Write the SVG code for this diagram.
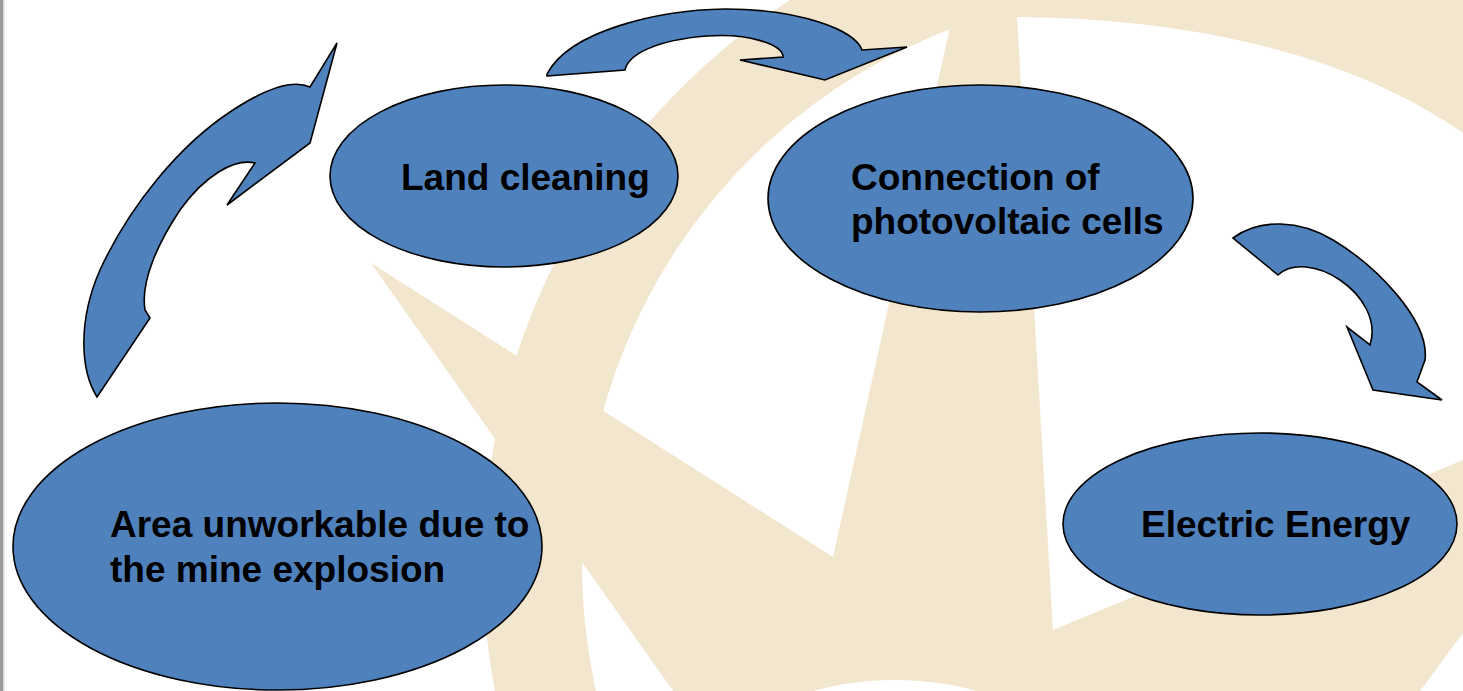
<svg xmlns="http://www.w3.org/2000/svg" width="1463" height="691" viewBox="0 0 1463 691">
<style>
.bg{fill:#F2E7CE;stroke:none}
.node{fill:#4F81BD;stroke:#000;stroke-width:1.6}
.arrow{fill:#4F81BD;stroke:#000;stroke-width:1.6;stroke-linejoin:miter}
.lbl{font-family:"Liberation Sans",Arial,sans-serif;font-weight:bold;font-size:37px;fill:#000}
</style>
<rect x="0" y="0" width="1463" height="691" fill="#fff"/>
<g id="watermark">
<path class="bg" fill-rule="evenodd" d="M483,565 a673,673 0 1,0 1346,0 a673,673 0 1,0 -1346,0 Z M582,565 a574,574 0 1,0 1148,0 a574,574 0 1,0 -1148,0 Z"/>
<path class="bg" d="M371,263 L833,557 L956,0 L1016,0 L1053,630 L1463,460 L1463,633 L1420,691 L673,691 Z"/>
<path class="bg" d="M1016,0 L1016,17 C1150,18 1330,40 1463,133 L1463,0 Z"/>
<ellipse cx="895" cy="740" rx="140" ry="60" fill="#fff"/>
</g>
<rect x="0" y="0" width="3" height="691" fill="#9a9a9a"/>
<rect x="3" y="0" width="1.5" height="691" fill="#d4d4d4"/>
<g id="connectors">
<path class="arrow" d="M97,397 C80,370 78,320 100,270 C130,205 180,145 230,112 C260,92 290,78 310,87 L337,43 L310,143 L227,205 L255,163 C235,158 205,175 180,210 C160,240 140,280 145,310 L150,318 Z"/>
<path class="arrow" d="M547,76 L625,70 C628,55 655,40 707,36 C750,33 783,45 783,57 L740,60 L825,80 L907,47 L862,50 C855,30 800,9 725,9 C660,10 570,30 547,74 Z"/>
<path class="arrow" d="M1233,238 C1260,218 1300,220 1333,240 C1375,265 1430,320 1425,360 L1417,382 L1442,400 L1373,390 L1347,327 L1370,345 C1378,320 1362,295 1340,280 C1318,265 1292,262 1278,275 Z"/>
</g>
<g id="node-area">
<ellipse class="node" cx="277.5" cy="546.5" rx="264.5" ry="143.5"/>
<text class="lbl" x="110" y="537">Area unworkable due to</text>
<text class="lbl" x="110" y="582">the mine explosion</text>
</g>
<g id="node-land">
<ellipse class="node" cx="504" cy="176" rx="174" ry="91"/>
<text class="lbl" x="401" y="190">Land cleaning</text>
</g>
<g id="node-connection">
<ellipse class="node" cx="980.5" cy="198.5" rx="212.5" ry="113.5"/>
<text class="lbl" x="851" y="190">Connection of</text>
<text class="lbl" x="851" y="234">photovoltaic cells</text>
</g>
<g id="node-energy">
<ellipse class="node" cx="1260" cy="524" rx="197" ry="91"/>
<text class="lbl" x="1141" y="537">Electric Energy</text>
</g>
</svg>
